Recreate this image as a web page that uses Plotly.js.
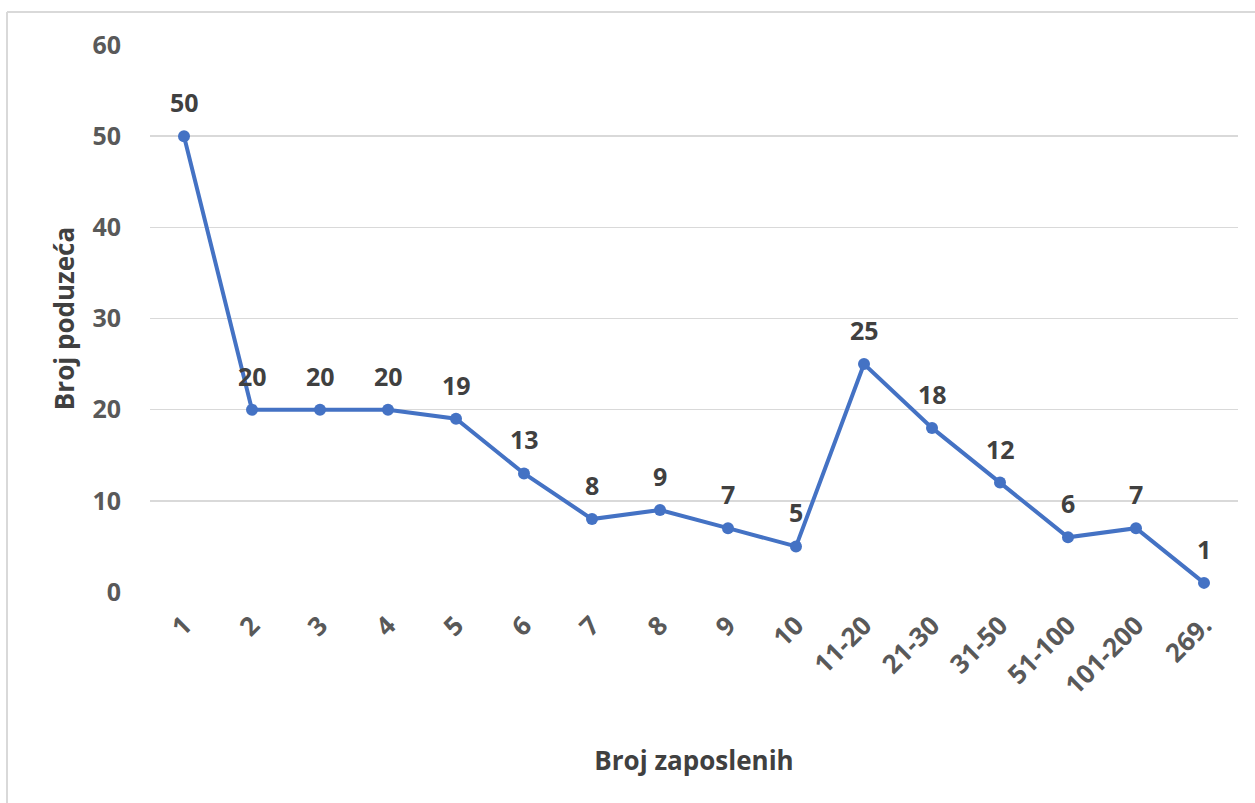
<!DOCTYPE html>
<html>
<head>
<meta charset="utf-8">
<script src="https://cdn.plot.ly/plotly-3.0.1.min.js"></script>
<style>
html,body{margin:0;padding:0;background:#fff;}
#chart{width:1255px;height:803px;}
</style>
</head>
<body>
<div id="chart"></div>
<script>
const categories = ["1","2","3","4","5","6","7","8","9","10","11-20","21-30","31-50","51-100","101-200","269."];
const values = [50,20,20,20,19,13,8,9,7,5,25,18,12,6,7,1];
const xTitle = "Broj zaposlenih";
const yTitle = "Broj poduzeća";

const font = "Open Sans, Noto Sans, sans-serif";
const trace = {
  x: categories,
  y: values,
  type: "scatter",
  mode: "lines+markers",
  line: {color: "#4472C4", width: 4},
  marker: {color: "#4472C4", size: 12},
  cliponaxis: false,
  hoverinfo: "x+y"
};

const labels = categories.map((c, i) => ({
  x: i, y: values[i], xref: "x", yref: "y",
  text: String(values[i]), showarrow: false,
  yshift: 34,
  font: {family: font, size: 25, color: "#404040", weight: "bold"}
}));

const pw = 1088; // plot width in px
const ph = 547;  // plot height in px
const layout = {
  width: 1255, height: 803,
  margin: {l: 150, r: 17, t: 45, b: 211},
  paper_bgcolor: "#fff", plot_bgcolor: "#fff",
  showlegend: false,
  xaxis: {
    type: "category",
    range: [-0.5, categories.length - 0.5],
    showgrid: false, zeroline: false, showline: false,
    ticks: "",
    tickangle: -45,
    ticklabelstandoff: 12,
    tickfont: {family: font, size: 26, color: "#595959", weight: "bold"},
    title: {text: xTitle, font: {family: font, size: 26, color: "#404040", weight: "bold"}, standoff: 50},
    fixedrange: true
  },
  yaxis: {
    range: [0, 60],
    dtick: 10,
    showgrid: true, gridcolor: "#D9D9D9", gridwidth: 1.5,
    zeroline: false, showline: false,
    ticks: "", ticklen: 0,
    ticklabelstandoff: 28,
    tickfont: {family: font, size: 25, color: "#595959", weight: "bold"},
    title: {text: yTitle, font: {family: font, size: 26, color: "#404040", weight: "bold"}, standoff: 10},
    fixedrange: true
  },
  annotations: labels,
  shapes: [
    {type: "line", xref: "paper", yref: "paper",
     x0: (7 - 150) / pw, x1: (1260 - 150) / pw, y0: (592 - 12) / ph, y1: (592 - 12) / ph,
     line: {color: "#D9D9D9", width: 2}},
    {type: "line", xref: "paper", yref: "paper",
     x0: (7 - 150) / pw, x1: (7 - 150) / pw, y0: (592 - 12) / ph, y1: (592 - 810) / ph,
     line: {color: "#D9D9D9", width: 2}}
  ]
};

Plotly.newPlot("chart", [trace], layout, {displayModeBar: false, staticPlot: true});
</script>
</body>
</html>
